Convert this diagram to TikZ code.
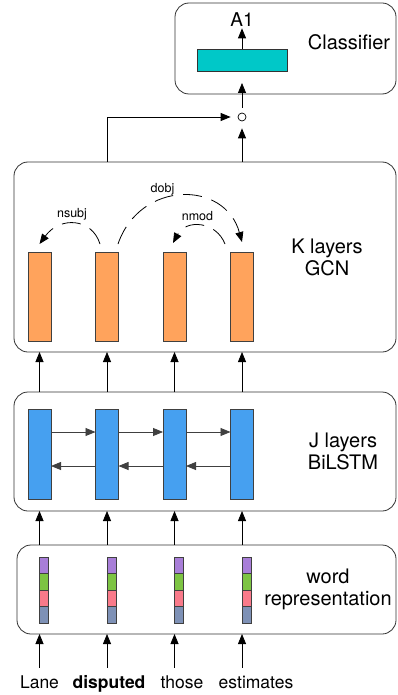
\documentclass[tikz,border=0pt]{standalone}
\usepackage{fontspec}
\setmainfont{TeX Gyre Heros}
\usetikzlibrary{arrows.meta,positioning}
\definecolor{clsfill}{HTML}{00C8C8}
\definecolor{gcnfill}{HTML}{FFA35C}
\definecolor{lstmfill}{HTML}{46A0F0}
\definecolor{segA}{HTML}{A87ED8}
\definecolor{segB}{HTML}{7DC443}
\definecolor{segC}{HTML}{F97A8A}
\definecolor{segD}{HTML}{7E91B6}

\begin{document}
\begin{tikzpicture}[x=1pt, y=-1pt, >={Triangle[length=10pt,width=8pt]}, line width=0.8pt,
  layer/.style={draw=black!80, rounded corners=14pt, inner sep=0pt, outer sep=0pt},
  unit/.style={draw=black!75, inner sep=0pt, outer sep=0pt, minimum width=23pt},
  seg/.style={draw=black!75, inner sep=0pt, outer sep=0pt, minimum width=9pt, minimum height=16.5pt},
  lbl/.style={align=center, font=\fontsize{20}{22}\selectfont},
  rel/.style={font=\fontsize{12.5}{14}\selectfont, inner sep=0pt},
  word/.style={font=\fontsize{17.5}{20}\selectfont, anchor=base, inner sep=0pt},
  dep/.style={->, dash pattern=on 19pt off 10pt}]
\path[use as bounding box, fill=white] (0,0) rectangle (397,695);

% classifier
\node[layer, minimum width=221pt, minimum height=91pt] (clsbox) at (285.5,48.5) {};
\node[draw=black!80, fill=clsfill, minimum width=90pt, minimum height=22pt, inner sep=0pt, outer sep=0pt] (cls) at (242,60) {};
\node[font=\fontsize{19}{22}\selectfont, inner sep=1pt] (a1) at (242,20) {A1};
\node[lbl] (clslbl) at (349,42) {Classifier};
\node[circle, draw, minimum size=8pt, inner sep=0pt, line width=0.7pt] (comb) at (242,117) {};

% GCN
\node[layer, minimum width=382pt, minimum height=190pt] (gcn) at (205,257) {};
\node[unit, fill=gcnfill, minimum height=89pt] (g1) at (39.5,296.5) {};
\node[unit, fill=gcnfill, minimum height=89pt, right=44.5pt of g1] (g2) {};
\node[unit, fill=gcnfill, minimum height=89pt, right=44.5pt of g2] (g3) {};
\node[unit, fill=gcnfill, minimum height=89pt, right=44.5pt of g3] (g4) {};
\node[lbl] (gcnlbl) at (327,257) {K layers\\GCN};

\draw[dep] ([xshift=-7pt,yshift=8pt]g2.north) .. controls (92,218) and (60,216) .. ([yshift=8pt]g1.north);
\draw[dep] ([xshift=11pt,yshift=8pt]g2.north) .. controls (140,180) and (225,180) .. ([yshift=10pt]g4.north);
\draw[dep] ([xshift=-17pt,yshift=8pt]g4.north) .. controls (216,221) and (186,219) .. ([xshift=-1.5pt,yshift=9pt]g3.north);
\node[rel] (nsubj) at (72,214) {nsubj};
\node[rel] (dobj) at (162.5,189.5) {dobj};
\node[rel] (nmod) at (197.5,216) {nmod};

% BiLSTM
\node[layer, minimum width=382pt, minimum height=119pt] (lstm) at (205,451.5) {};
\node[unit, fill=lstmfill, minimum height=90pt] (b1) at (39.5,454) {};
\node[unit, fill=lstmfill, minimum height=90pt, right=44.5pt of b1] (b2) {};
\node[unit, fill=lstmfill, minimum height=90pt, right=44.5pt of b2] (b3) {};
\node[unit, fill=lstmfill, minimum height=90pt, right=44.5pt of b3] (b4) {};
\node[lbl] (lstmlbl) at (343,451) {J layers\\BiLSTM};

\draw[->, black!75] ([yshift=22pt]b1.east) -- ([yshift=22pt]b2.west);
\draw[->, black!75] ([yshift=22pt]b2.east) -- ([yshift=22pt]b3.west);
\draw[->, black!75] ([yshift=22pt]b3.east) -- ([yshift=22pt]b4.west);
\draw[->, black!75] ([yshift=-12pt]b4.west) -- ([yshift=-12pt]b3.east);
\draw[->, black!75] ([yshift=-12pt]b3.west) -- ([yshift=-12pt]b2.east);
\draw[->, black!75] ([yshift=-12pt]b2.west) -- ([yshift=-12pt]b1.east);

% word representation
\node[layer, minimum width=379pt, minimum height=89pt] (wrep) at (206.5,589.5) {};
\foreach \i/\x in {1/44, 2/111.5, 3/179, 4/246.5} {
  \node[seg, fill=segA] (s\i-a) at (\x,565.25) {};
  \node[seg, fill=segB, below=0pt of s\i-a] (s\i-b) {};
  \node[seg, fill=segC, below=0pt of s\i-b] (s\i-c) {};
  \node[seg, fill=segD, below=0pt of s\i-c] (s\i-d) {};
}
\node[lbl] (wlbl) at (328,589) {word\\representation};

% input words
\node[word] (t1) at (39.5,688) {Lane};
\node[word, font=\fontsize{17.5}{20}\selectfont\bfseries] (t2) at (109,688) {disputed};
\node[word] (t3) at (182,688) {those};
\node[word] (t4) at (256,688) {estimates};

\foreach \i in {1,...,4} {
  \draw[->, shorten <=7pt] (b\i |- t1.north) -- (b\i |- wrep.south);
  \draw[->] (b\i |- wrep.north) -- (b\i |- lstm.south);
  \draw[->] (b\i |- lstm.north) -- (g\i |- gcn.south);
}

% to classifier
\draw[->, shorten >=7pt] (comb |- gcn.north) -- (comb.south);
\draw[->, shorten >=7pt] (g2 |- gcn.north) |- (comb.west);
\draw[->, shorten <=5pt, shorten >=12pt] (comb.north) -- (cls.south);
\draw[->] (cls.north) -- (a1.south);
\end{tikzpicture}
\end{document}
